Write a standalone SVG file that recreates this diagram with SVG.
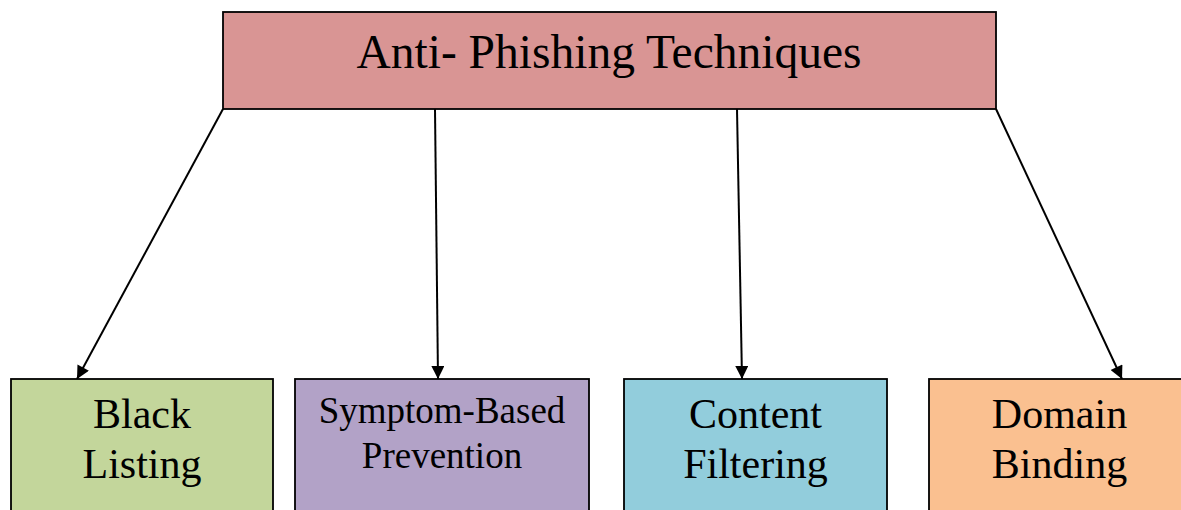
<svg xmlns="http://www.w3.org/2000/svg" width="1181" height="510" viewBox="0 0 1181 510">
<style>
.box{stroke:#000;stroke-width:1.8}
.t{font-family:"Liberation Serif","Times New Roman",serif;fill:#000;text-anchor:middle}
.c{stroke:#000;stroke-width:2;fill:none;marker-end:url(#ah)}
</style>
<defs>
<marker id="ah" viewBox="0 0 10 10" refX="10" refY="5" markerWidth="7.5" markerHeight="6.5" markerUnits="strokeWidth" orient="auto">
<path d="M0,0 L10,5 L0,10 Z" fill="#000"/>
</marker>
</defs>
<rect width="1181" height="510" fill="#fff"/>
<g id="connectors">
<line class="c" x1="223" y1="109" x2="77" y2="379"/>
<line class="c" x1="435" y1="109" x2="438" y2="379"/>
<line class="c" x1="737" y1="109" x2="742" y2="379"/>
<line class="c" x1="996" y1="109" x2="1122" y2="379"/>
</g>
<g id="root">
<rect class="box" x="223" y="12" width="773" height="97" fill="#D99594"/>
<text class="t" x="609" y="68" font-size="47.5">Anti- Phishing Techniques</text>
</g>
<g id="black-listing">
<rect class="box" x="11" y="379" width="262" height="140" fill="#C3D69B"/>
<text class="t" x="142" y="428" font-size="42">Black</text>
<text class="t" x="142" y="478" font-size="42">Listing</text>
</g>
<g id="symptom-based">
<rect class="box" x="295" y="379" width="294" height="140" fill="#B2A2C7"/>
<text class="t" x="442" y="423" font-size="37">Symptom-Based</text>
<text class="t" x="442" y="468" font-size="37">Prevention</text>
</g>
<g id="content-filtering">
<rect class="box" x="624" y="379" width="263" height="140" fill="#92CDDC"/>
<text class="t" x="755.5" y="428" font-size="42">Content</text>
<text class="t" x="755.5" y="478" font-size="42">Filtering</text>
</g>
<g id="domain-binding">
<rect class="box" x="929" y="379" width="262" height="140" fill="#FAC090"/>
<text class="t" x="1059.5" y="428" font-size="42">Domain</text>
<text class="t" x="1059.5" y="478" font-size="42">Binding</text>
</g>
</svg>
